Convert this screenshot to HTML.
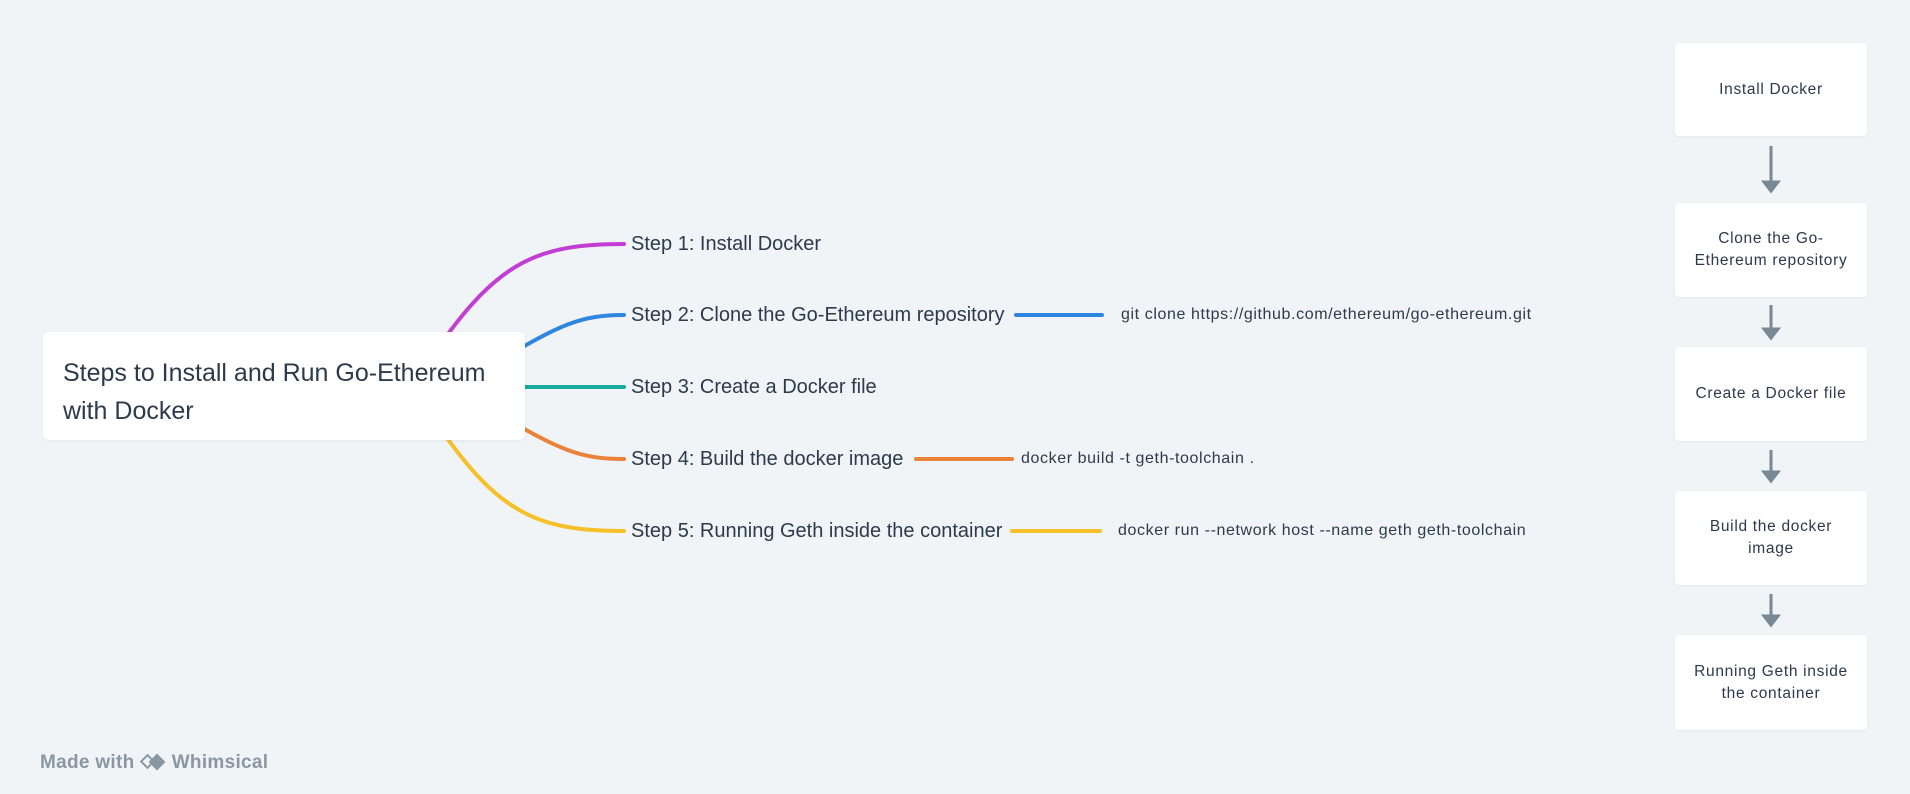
<!DOCTYPE html>
<html><head><meta charset="utf-8"><style>
body{margin:0;width:1910px;height:794px;background:#f0f4f7;position:relative;overflow:hidden;font-family:"Liberation Sans",sans-serif;color:#2c3a4b}
.abs{position:absolute;white-space:nowrap}
.root{position:absolute;left:43px;top:332px;width:482px;height:108px;background:#fff;border-radius:6px;box-shadow:0 1px 3px rgba(0,0,0,.06);box-sizing:border-box;padding:22px 0 0 20px;font-size:25px;line-height:38px;color:#2c3a4b}
.step{font-size:20px;line-height:24px}
.code{font-size:16px;line-height:20px;letter-spacing:0.6px}
.box{position:absolute;left:1675px;width:192px;background:#fff;border-radius:4px;box-shadow:0 1px 3px rgba(0,0,0,.05);display:flex;align-items:center;justify-content:center;text-align:center;font-size:15.5px;letter-spacing:0.7px;line-height:22px;color:#2c3a4b}
</style></head><body>
<svg class="abs" style="left:0;top:0" width="1910" height="794">
<g fill="none" stroke-width="4" stroke-linecap="round">
<path d="M440 345 C500 260 540 244 624 244" stroke="#c13dd3"/>
<path d="M500 360 C560 325 580 315 624 315" stroke="#2f86df"/>
<path d="M500 387 L624 387" stroke="#1aa99d"/>
<path d="M500 415 C560 450 580 459 624 459" stroke="#ea823a"/>
<path d="M440 428 C500 515 540 531 624 531" stroke="#f6c02b"/>
<path d="M1016 315 L1102 315" stroke="#2f86df"/>
<path d="M916 459 L1012 459" stroke="#ea823a"/>
<path d="M1012 531 L1100 531" stroke="#f6c02b"/>
</g>
<g stroke="#798897" stroke-width="3" fill="#798897">
<line x1="1771" y1="146" x2="1771" y2="184"/><path d="M1764 182 L1778 182 L1771 191 Z"/>
<line x1="1771" y1="305" x2="1771" y2="331"/><path d="M1764 329 L1778 329 L1771 338 Z"/>
<line x1="1771" y1="450" x2="1771" y2="474"/><path d="M1764 472 L1778 472 L1771 481 Z"/>
<line x1="1771" y1="594" x2="1771" y2="618"/><path d="M1764 616 L1778 616 L1771 625 Z"/>
</g>
</svg>
<div class="root">Steps to Install and Run Go-Ethereum<br>with Docker</div>
<div class="abs step" style="left:631px;top:232px">Step 1: Install Docker</div>
<div class="abs step" style="left:631px;top:303px">Step 2: Clone the Go-Ethereum repository</div>
<div class="abs step" style="left:631px;top:375px">Step 3: Create a Docker file</div>
<div class="abs step" style="left:631px;top:447px">Step 4: Build the docker image</div>
<div class="abs step" style="left:631px;top:519px">Step 5: Running Geth inside the container</div>
<div class="abs code" style="left:1121px;top:305px">git clone https://github.com/ethereum/go-ethereum.git</div>
<div class="abs code" style="left:1021px;top:449px">docker build -t geth-toolchain .</div>
<div class="abs code" style="left:1118px;top:521px">docker run --network host --name geth geth-toolchain</div>
<div class="box" style="top:43px;height:93px">Install Docker</div>
<div class="box" style="top:203px;height:94px">Clone the Go-<br>Ethereum repository</div>
<div class="box" style="top:347px;height:94px">Create a Docker file</div>
<div class="box" style="top:491px;height:94px">Build the docker<br>image</div>
<div class="box" style="top:635px;height:95px">Running Geth inside<br>the container</div>
<div class="abs" style="left:40px;top:752px;font-size:19px;letter-spacing:0.3px;color:#8a97a3;font-weight:bold">Made with <span style="display:inline-block;width:26px;height:14px;position:relative;vertical-align:-1px"><span style="position:absolute;left:2px;top:1px;width:11px;height:11px;border:2px solid #8a97a3;transform:rotate(45deg);box-sizing:border-box"></span><span style="position:absolute;left:11px;top:1px;width:12px;height:12px;background:#8a97a3;transform:rotate(45deg)"></span></span> Whimsical</div>
</body></html>
